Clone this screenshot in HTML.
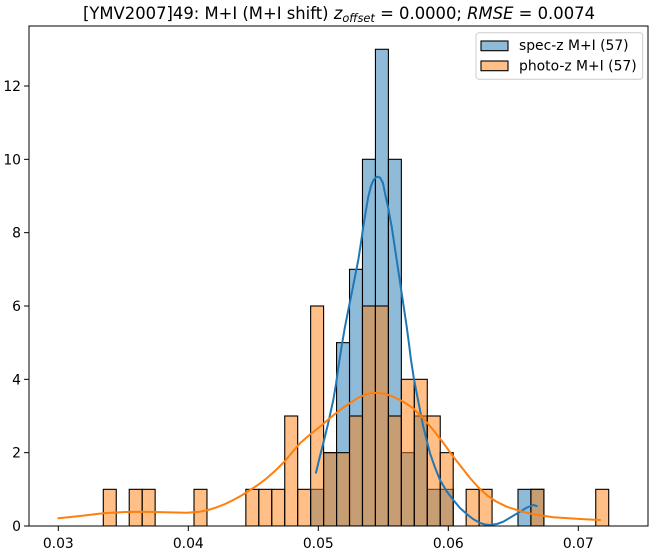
<!DOCTYPE html>
<html><head><meta charset="utf-8"><style>
html,body{margin:0;padding:0;background:#fff;}
svg{display:block;font-family:"DejaVu Sans","Liberation Sans",sans-serif;}
</style></head><body>
<svg width="651" height="552" viewBox="0 0 651 552" xmlns="http://www.w3.org/2000/svg">
<rect x="0" y="0" width="651" height="552" fill="#fff"/>
<defs><clipPath id="ax"><rect x="29" y="26" width="619" height="500"/></clipPath></defs>
<g clip-path="url(#ax)" stroke="#000" stroke-width="1.1">
<g fill="rgba(31,119,180,0.5)">
<rect x="310.64" y="489.33" width="12.96" height="36.67"/>
<rect x="323.60" y="452.66" width="12.96" height="73.34"/>
<rect x="336.56" y="342.65" width="12.96" height="183.35"/>
<rect x="349.52" y="269.31" width="12.96" height="256.69"/>
<rect x="362.48" y="159.30" width="12.96" height="366.7"/>
<rect x="375.44" y="49.29" width="12.96" height="476.71"/>
<rect x="388.40" y="159.30" width="12.96" height="366.7"/>
<rect x="401.36" y="452.66" width="12.96" height="73.34"/>
<rect x="414.32" y="415.99" width="12.96" height="110.01"/>
<rect x="427.28" y="489.33" width="12.96" height="36.67"/>
<rect x="440.24" y="489.33" width="12.96" height="36.67"/>
<rect x="517.99" y="489.33" width="12.96" height="36.67"/>
<rect x="530.95" y="489.33" width="12.96" height="36.67"/>
</g>
<g fill="rgba(255,127,14,0.5)">
<rect x="103.30" y="489.33" width="12.96" height="36.67"/>
<rect x="129.22" y="489.33" width="12.96" height="36.67"/>
<rect x="142.18" y="489.33" width="12.96" height="36.67"/>
<rect x="194.01" y="489.33" width="12.96" height="36.67"/>
<rect x="245.85" y="489.33" width="12.96" height="36.67"/>
<rect x="258.81" y="489.33" width="12.96" height="36.67"/>
<rect x="271.77" y="489.33" width="12.96" height="36.67"/>
<rect x="284.73" y="415.99" width="12.96" height="110.01"/>
<rect x="297.69" y="489.33" width="12.96" height="36.67"/>
<rect x="310.64" y="305.98" width="12.96" height="220.02"/>
<rect x="323.60" y="452.66" width="12.96" height="73.34"/>
<rect x="336.56" y="452.66" width="12.96" height="73.34"/>
<rect x="349.52" y="415.99" width="12.96" height="110.01"/>
<rect x="362.48" y="305.98" width="12.96" height="220.02"/>
<rect x="375.44" y="305.98" width="12.96" height="220.02"/>
<rect x="388.40" y="415.99" width="12.96" height="110.01"/>
<rect x="401.36" y="379.32" width="12.96" height="146.68"/>
<rect x="414.32" y="379.32" width="12.96" height="146.68"/>
<rect x="427.28" y="415.99" width="12.96" height="110.01"/>
<rect x="440.24" y="452.66" width="12.96" height="73.34"/>
<rect x="466.15" y="489.33" width="12.96" height="36.67"/>
<rect x="479.11" y="489.33" width="12.96" height="36.67"/>
<rect x="530.95" y="489.33" width="12.96" height="36.67"/>
<rect x="595.74" y="489.33" width="12.96" height="36.67"/>
</g>
</g>
<g clip-path="url(#ax)" fill="none" stroke-width="2" stroke-linejoin="round" stroke-linecap="round">
<polyline stroke="#1f77b4" points="316,472.7 319.5,458 323.3,443.3 328,424 333.3,400 336,384 338.3,368 341.5,347 345,326.7 348.3,310 351.7,293.3 355,276.5 358.3,260 361,242.5 363.3,226.7 366,210 368.3,196.7 371,186 373.5,180 376.7,176.7 380,177.5 383,183 385,193.3 388,207 391.7,226.7 394.2,243.3 396.7,260 399.2,276.7 401.7,293.3 404.2,310 406.7,326.7 409,344 411,360 413.8,378 416.7,393.3 423.3,426.7 430,453.3 435,467.5 440,480 446.5,491 453.3,500 460,508 466.7,514 473,519 480,523 485,524.5 490,525 497,524 503.3,521.7 512,516.5 520,511.7 527,507.5 533.3,505 536.7,506"/>
<polyline stroke="#ff7f0e" points="58.3,518.3 80,516 103.3,513.3 125,512 143.3,511.7 165,512.3 186.7,512.7 200,511.7 208,510 216.7,507.3 225,504 233.3,500 241.5,495.5 250,490 258.5,484.5 266.7,478.3 276,470 285,461 292.5,452 300,443.3 310,434.5 320,426.7 330,418 340,410 350,403 360,396.7 368,393.8 376.7,392.7 385,393.8 393.3,396.7 403,401.5 413.3,408.3 423,418 433.3,430 443,442.5 453.3,456.7 461,466.5 470,478 478,487 486.7,495 496,501.5 506.7,506.7 520,511 533.3,514.3 553.3,517.3 580,519 600,520"/>
</g>
<rect x="29" y="26" width="619" height="500" fill="none" stroke="#000" stroke-width="1"/>
<g stroke="#000" stroke-width="1">
<line x1="24" y1="526" x2="29" y2="526"/>
<line x1="24" y1="452.67" x2="29" y2="452.67"/>
<line x1="24" y1="379.33" x2="29" y2="379.33"/>
<line x1="24" y1="306" x2="29" y2="306"/>
<line x1="24" y1="232.67" x2="29" y2="232.67"/>
<line x1="24" y1="159.33" x2="29" y2="159.33"/>
<line x1="24" y1="86" x2="29" y2="86"/>
<line x1="58.3" y1="526" x2="58.3" y2="531"/>
<line x1="188.3" y1="526" x2="188.3" y2="531"/>
<line x1="318.3" y1="526" x2="318.3" y2="531"/>
<line x1="448.3" y1="526" x2="448.3" y2="531"/>
<line x1="578.3" y1="526" x2="578.3" y2="531"/>
</g>
<g font-size="13.9" fill="#000" text-anchor="end">
<text x="21" y="531">0</text>
<text x="21" y="457.7">2</text>
<text x="21" y="384.3">4</text>
<text x="21" y="311">6</text>
<text x="21" y="237.7">8</text>
<text x="21" y="164.3">10</text>
<text x="21" y="91">12</text>
</g>
<g font-size="13.9" fill="#000" text-anchor="middle">
<text x="58.3" y="548">0.03</text>
<text x="188.3" y="548">0.04</text>
<text x="318.3" y="548">0.05</text>
<text x="448.3" y="548">0.06</text>
<text x="578.3" y="548">0.07</text>
</g>
<text x="83" y="19" font-size="16.6" fill="#000" textLength="512" lengthAdjust="spacingAndGlyphs">[YMV2007]49: M+I (M+I shift) <tspan font-style="italic">z</tspan><tspan font-style="italic" font-size="11.5" dy="3">offset</tspan><tspan dy="-3"> = 0.0000; </tspan><tspan font-style="italic">RMSE</tspan> = 0.0074</text>
<rect x="476" y="32.7" width="166.7" height="46.6" rx="3" fill="#fff" fill-opacity="0.8" stroke="#ccc" stroke-width="1"/>
<rect x="481" y="41" width="27" height="9.7" fill="rgba(31,119,180,0.5)" stroke="#000" stroke-width="1.1"/>
<rect x="481" y="61" width="27" height="9.7" fill="rgba(255,127,14,0.5)" stroke="#000" stroke-width="1.1"/>
<g font-size="13.9" fill="#000">
<text x="519" y="50">spec-z M+I (57)</text>
<text x="519" y="70.3">photo-z M+I (57)</text>
</g>
</svg>
</body></html>
